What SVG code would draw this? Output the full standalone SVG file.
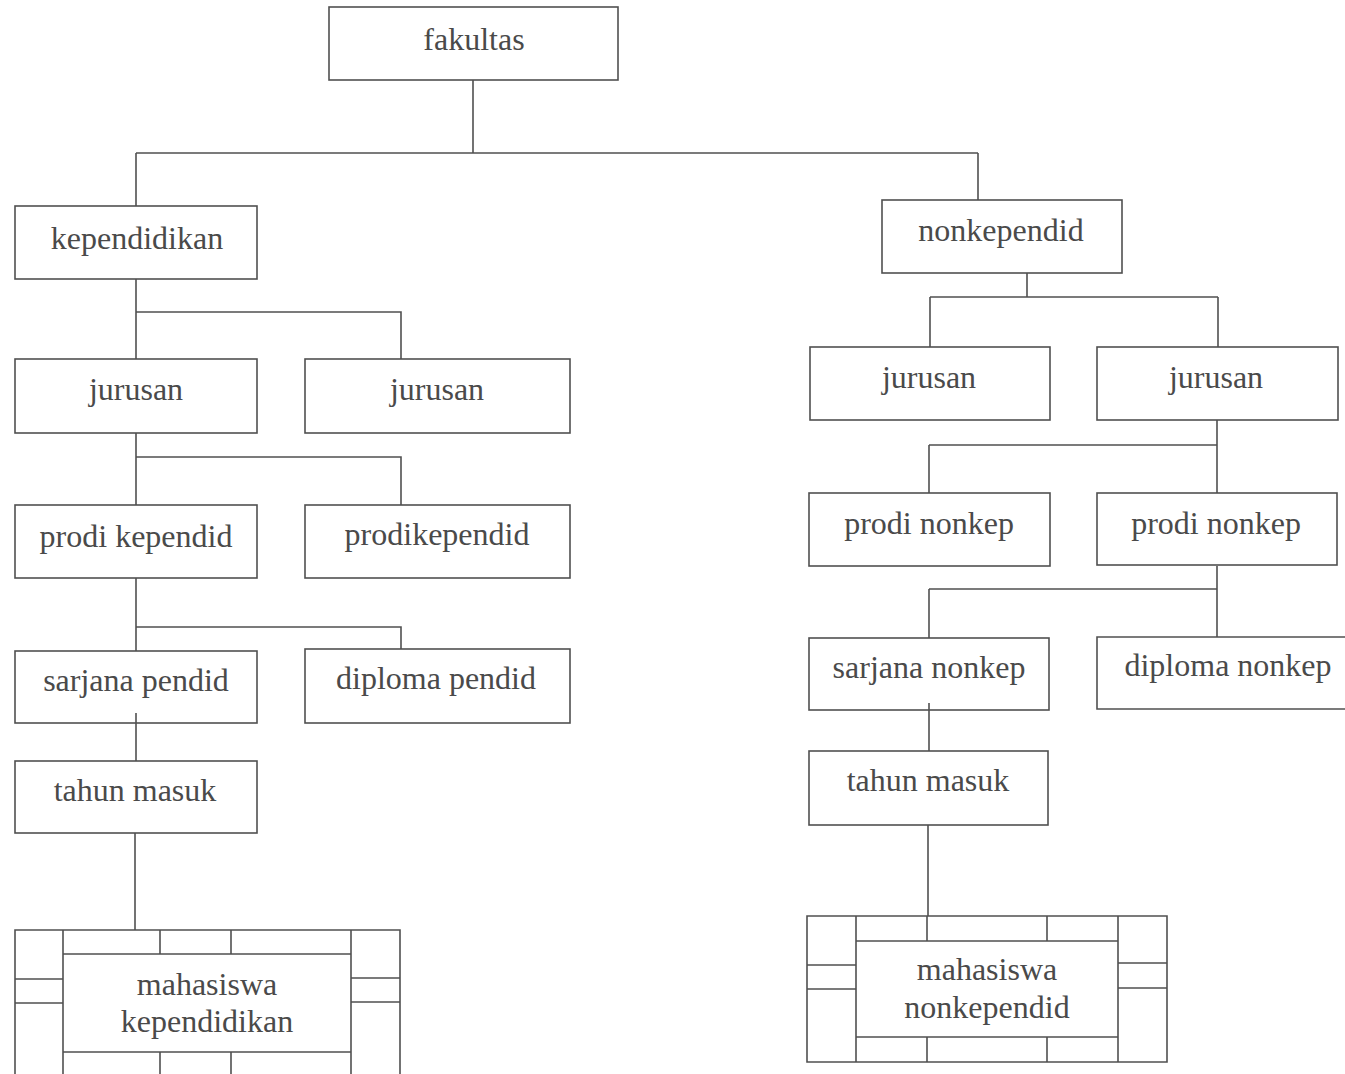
<svg xmlns="http://www.w3.org/2000/svg" width="1345" height="1074" viewBox="0 0 1345 1074">
<style>
.box{fill:none;stroke:#505050;stroke-width:1.6}
.ln{fill:none;stroke:#505050;stroke-width:1.6}
.t{font-family:"Liberation Serif","Times New Roman",serif;font-size:32px;fill:#4a4a4a;text-anchor:middle}
</style>
<rect x="0" y="0" width="1345" height="1074" fill="#ffffff"/>
<g id="connectors" class="ln">
<path d="M473 80V153M136 153H978M136 153V206M978 153V200"/>
<path d="M136 279V359M136 312H401V359"/>
<path d="M136 433V505M136 457H401V505"/>
<path d="M136 578V651M136 627H401V649"/>
<path d="M136 713V761"/>
<path d="M135 833V930"/>
<path d="M1027 273V297M930 297H1218M930 297V347M1218 297V347"/>
<path d="M1217 420V493M929 445H1217M929 445V493"/>
<path d="M1217 566V637M929 589H1217M929 589V638"/>
<path d="M929 703V751"/>
<path d="M928 825V916"/>
</g>
<g id="fakultas"><rect class="box" x="329" y="7" width="289" height="73"/><text class="t" x="474" y="50">fakultas</text></g>
<g id="kependidikan"><rect class="box" x="15" y="206" width="242" height="73"/><text class="t" x="137" y="249">kependidikan</text></g>
<g id="jurusan1"><rect class="box" x="15" y="359" width="242" height="74"/><text class="t" x="136" y="400">jurusan</text></g>
<g id="jurusan2"><rect class="box" x="305" y="359" width="265" height="74"/><text class="t" x="437" y="400">jurusan</text></g>
<g id="prodi-kependid"><rect class="box" x="15" y="505" width="242" height="73"/><text class="t" x="136" y="547">prodi kependid</text></g>
<g id="prodikependid"><rect class="box" x="305" y="505" width="265" height="73"/><text class="t" x="437" y="545">prodikependid</text></g>
<g id="sarjana-pendid"><rect class="box" x="15" y="651" width="242" height="72"/><text class="t" x="136" y="691">sarjana pendid</text></g>
<g id="diploma-pendid"><rect class="box" x="305" y="649" width="265" height="74"/><text class="t" x="436" y="689">diploma pendid</text></g>
<g id="tahun-masuk-1"><rect class="box" x="15" y="761" width="242" height="72"/><text class="t" x="135" y="801">tahun masuk</text></g>
<g id="mahasiswa-kependidikan">
<path class="box" d="M15 1080V930H400V1080M63 930V1080M351 930V1080M63 954H351M63 1052H351M160 930V954M231 930V954M160 1052V1080M231 1052V1080M15 979H63M15 1003H63M351 978H400M351 1002H400"/>
<text class="t" x="207" y="995">mahasiswa</text>
<text class="t" x="207" y="1032">kependidikan</text>
</g>
<g id="nonkependid"><rect class="box" x="882" y="200" width="240" height="73"/><text class="t" x="1001" y="241">nonkependid</text></g>
<g id="jurusan3"><rect class="box" x="810" y="347" width="240" height="73"/><text class="t" x="929" y="388">jurusan</text></g>
<g id="jurusan4"><rect class="box" x="1097" y="347" width="241" height="73"/><text class="t" x="1216" y="388">jurusan</text></g>
<g id="prodi-nonkep-1"><rect class="box" x="809" y="493" width="241" height="73"/><text class="t" x="929" y="534">prodi nonkep</text></g>
<g id="prodi-nonkep-2"><rect class="box" x="1097" y="493" width="240" height="72"/><text class="t" x="1216" y="534">prodi nonkep</text></g>
<g id="sarjana-nonkep"><rect class="box" x="809" y="638" width="240" height="72"/><text class="t" x="929" y="678">sarjana nonkep</text></g>
<g id="diploma-nonkep"><path class="box" d="M1350 637H1097V709H1350"/><text class="t" x="1228" y="676">diploma nonkep</text></g>
<g id="tahun-masuk-2"><rect class="box" x="809" y="751" width="239" height="74"/><text class="t" x="928" y="791">tahun masuk</text></g>
<g id="mahasiswa-nonkependid">
<path class="box" d="M807 916H1167V1062H807ZM856 916V1062M1118 916V1062M856 941H1118M856 1037H1118M927 916V941M1047 916V941M927 1037V1062M1047 1037V1062M807 965H856M807 989H856M1118 963H1167M1118 988H1167"/>
<text class="t" x="987" y="980">mahasiswa</text>
<text class="t" x="987" y="1018">nonkependid</text>
</g>
</svg>
